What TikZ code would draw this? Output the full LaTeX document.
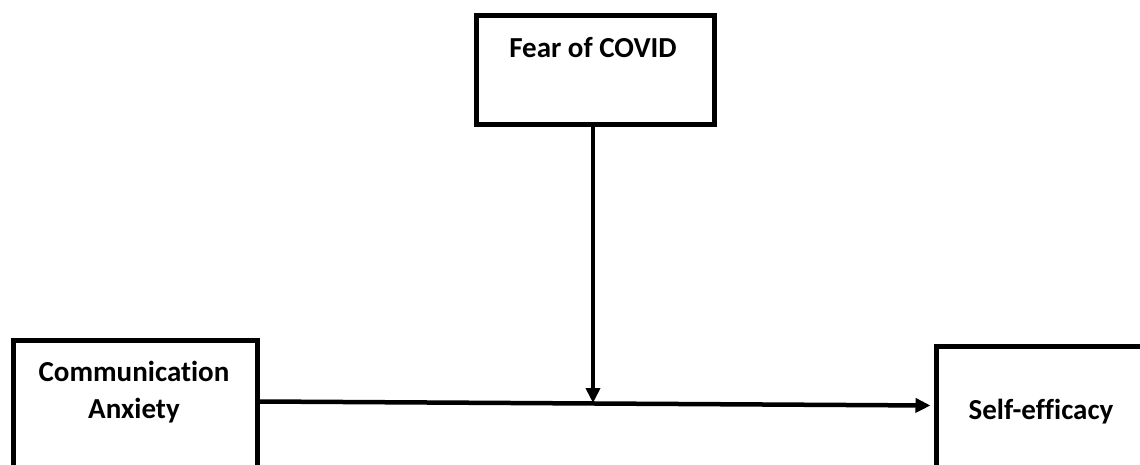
\documentclass[tikz,border=0pt]{standalone}
\usepackage{fontspec}
\setmainfont[Ligatures={NoCommon}]{Carlito}
\usetikzlibrary{arrows.meta,calc}
\begin{document}
\begin{tikzpicture}[x=1pt,y=-1pt,
  box/.style={draw=black,line width=5pt,fill=white,minimum width=#1,inner sep=0pt},
  lbl/.style={font=\fontsize{29}{36}\selectfont\bfseries,align=center,inner sep=0pt},
  arr/.style={line width=4.5pt,-{Triangle[length=15pt,width=14pt]}}]
\useasboundingbox (0,0) rectangle (1140,465);
\clip (0,0) rectangle (1140,465);
\fill[white] (0,0) rectangle (1140,465);
\node[box=238pt,minimum height=109pt] (fear) at (595,70.5) {};
\node[box=244pt,minimum height=160pt] (comm) at (135,420) {};
\node[box=240pt,minimum height=160pt] (self) at (1056,426) {};
\node[lbl] (tfear) at (593,48) {Fear of COVID};
\node[lbl] (tcomm) at (134,392) {Communication\\[1pt]Anxiety};
\node[lbl] (tself) at (1041,412) {Self-efficacy};
\coordinate (join) at (593,403);
\draw[arr] ([yshift=-64pt]comm.north east) -- ([yshift=-62pt,xshift=-3pt]self.north west);
\draw[arr] (fear.south -| join) -- (join);
\end{tikzpicture}
\end{document}
